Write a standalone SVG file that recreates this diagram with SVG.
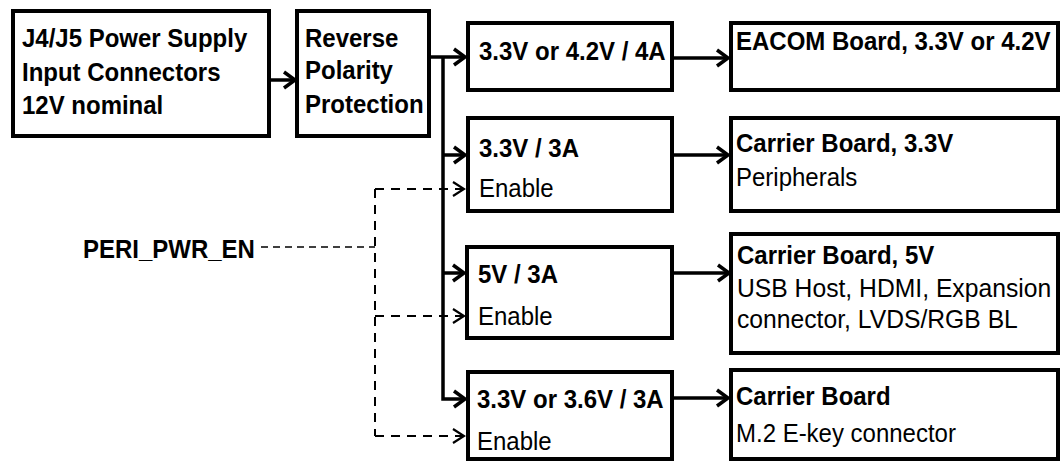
<svg xmlns="http://www.w3.org/2000/svg" width="1062" height="463" viewBox="0 0 1062 463">
<defs>
<style>
.box{fill:#fff;stroke:#000;stroke-width:4}
.b{font-family:"Liberation Sans",Arial,sans-serif;font-size:26px;font-weight:bold;fill:#000}
.r{font-family:"Liberation Sans",Arial,sans-serif;font-size:26px;fill:#000}
.w{fill:none;stroke:#000;stroke-width:3.5}
.d{fill:none;stroke:#000;stroke-width:2;stroke-dasharray:9 7}
.dp{fill:none;stroke:#000;stroke-width:1.6;stroke-dasharray:7 5}
</style>
<marker id="ah" markerUnits="userSpaceOnUse" viewBox="0 0 16 20" refX="14" refY="10" markerWidth="16" markerHeight="20" orient="auto">
<path d="M3,2 L14,10 L3,18" fill="none" stroke="#000" stroke-width="3.5"/>
</marker>
<marker id="ahd" markerUnits="userSpaceOnUse" viewBox="0 0 16 20" refX="14" refY="10" markerWidth="16" markerHeight="20" orient="auto">
<path d="M3,3 L14,10 L3,17" fill="none" stroke="#000" stroke-width="2.2"/>
</marker>
</defs>
<rect width="1062" height="463" fill="#fff"/>
<g id="connectors">
<path class="w" d="M269,80 H295" marker-end="url(#ah)"/>
<path class="w" d="M429,57 H465" marker-end="url(#ah)"/>
<path class="w" d="M443,57 V399 H465" marker-end="url(#ah)"/>
<path class="w" d="M443,155 H465" marker-end="url(#ah)"/>
<path class="w" d="M443,273 H464" marker-end="url(#ah)"/>
<path class="w" d="M672,58 H728" marker-end="url(#ah)"/>
<path class="w" d="M672,155 H728" marker-end="url(#ah)"/>
<path class="w" d="M672,273 H729" marker-end="url(#ah)"/>
<path class="w" d="M672,398 H728" marker-end="url(#ah)"/>
<path class="dp" d="M261,247 H375"/>
<path class="d" d="M375,189 V436"/>
<path class="d" d="M375,189 H464" marker-end="url(#ahd)"/>
<path class="d" d="M375,316 H464" marker-end="url(#ahd)"/>
<path class="d" d="M375,436 H464" marker-end="url(#ahd)"/>
</g>
<g id="n-input">
<rect class="box" x="13" y="11" width="256" height="125"/>
<text class="b" transform="translate(22,47) scale(0.923,1)">J4/J5 Power Supply</text>
<text class="b" transform="translate(22,81) scale(0.923,1)">Input Connectors</text>
<text class="b" transform="translate(22,114) scale(0.923,1)">12V nominal</text>
</g>
<g id="n-reverse">
<rect class="box" x="297" y="11" width="132" height="125"/>
<text class="b" transform="translate(305,47) scale(0.923,1)">Reverse</text>
<text class="b" transform="translate(305,79) scale(0.923,1)">Polarity</text>
<text class="b" transform="translate(305,113) scale(0.923,1)">Protection</text>
</g>
<g id="n-reg1">
<rect class="box" x="468" y="23" width="204" height="67"/>
<text class="b" transform="translate(479,60) scale(0.923,1)">3.3V or 4.2V / 4A</text>
</g>
<g id="n-eacom">
<rect class="box" x="731" y="23" width="327" height="67"/>
<text class="b" transform="translate(736,50) scale(0.923,1)">EACOM Board, 3.3V or 4.2V</text>
</g>
<g id="n-reg2">
<rect class="box" x="468" y="118" width="204" height="93"/>
<text class="b" transform="translate(479,157) scale(0.923,1)">3.3V / 3A</text>
<text class="r" transform="translate(479,197) scale(0.923,1)">Enable</text>
</g>
<g id="n-carrier33">
<rect class="box" x="731" y="118" width="327" height="93"/>
<text class="b" transform="translate(736,152) scale(0.923,1)">Carrier Board, 3.3V</text>
<text class="r" transform="translate(736,186) scale(0.923,1)">Peripherals</text>
</g>
<g id="n-reg3">
<rect class="box" x="467" y="247" width="205" height="91"/>
<text class="b" transform="translate(478,283) scale(0.923,1)">5V / 3A</text>
<text class="r" transform="translate(478,325) scale(0.923,1)">Enable</text>
</g>
<g id="n-carrier5">
<rect class="box" x="731" y="234" width="327" height="119"/>
<text class="b" transform="translate(737,264) scale(0.923,1)">Carrier Board, 5V</text>
<text class="r" transform="translate(737,297) scale(0.95,1)">USB Host, HDMI, Expansion</text>
<text class="r" transform="translate(737,328) scale(0.95,1)">connector, LVDS/RGB BL</text>
</g>
<g id="n-reg4">
<rect class="box" x="468" y="372" width="204" height="87"/>
<text class="b" transform="translate(477,408) scale(0.923,1)">3.3V or 3.6V / 3A</text>
<text class="r" transform="translate(477,450) scale(0.923,1)">Enable</text>
</g>
<g id="n-carrierm2">
<rect class="box" x="731" y="370" width="327" height="89"/>
<text class="b" transform="translate(736,405) scale(0.923,1)">Carrier Board</text>
<text class="r" transform="translate(736,442) scale(0.923,1)">M.2 E-key connector</text>
</g>
<g id="n-peri">
<text class="b" transform="translate(83,258) scale(0.923,1)">PERI_PWR_EN</text>
</g>
</svg>
